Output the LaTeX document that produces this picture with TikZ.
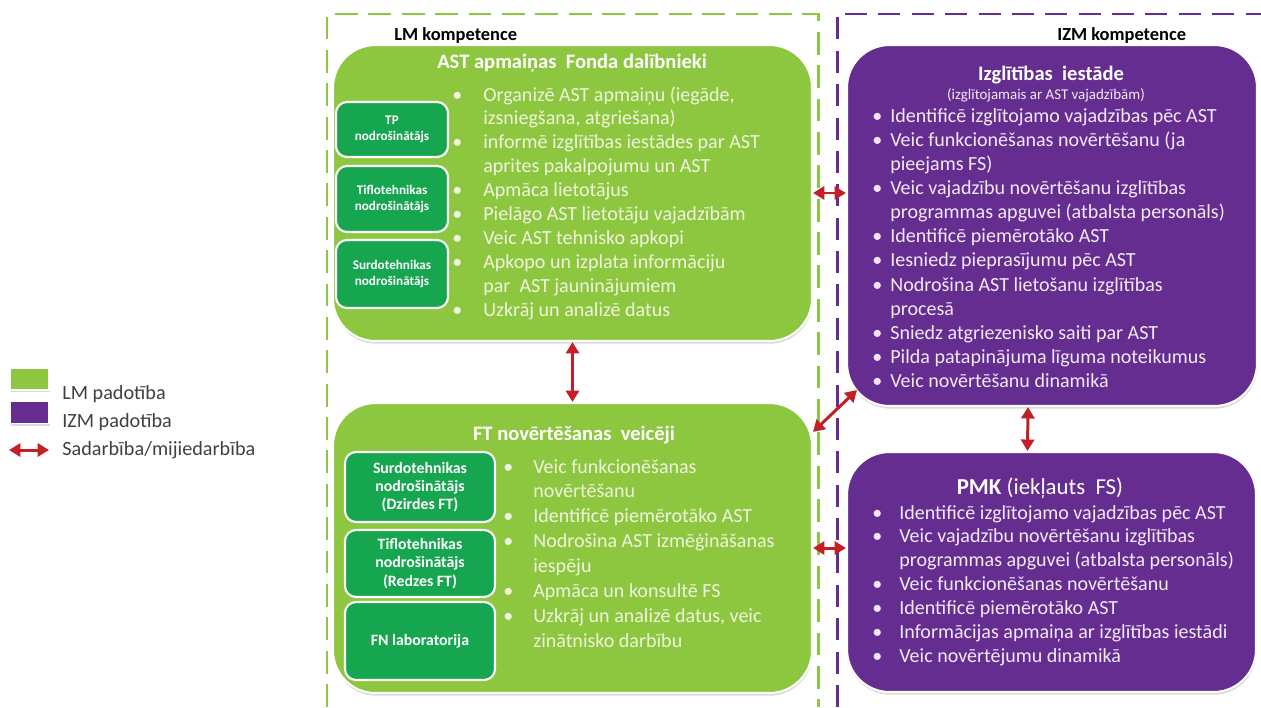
\documentclass[tikz,border=0pt]{standalone}
\usepackage{fontspec}
\setmainfont{Carlito}
\usetikzlibrary{shadows,arrows.meta}
\definecolor{lmgreen}{RGB}{141,198,63}
\definecolor{tpgreen}{RGB}{22,166,80}
\definecolor{izmpurple}{RGB}{102,45,145}
\definecolor{linkred}{RGB}{192,32,38}
\definecolor{gtext}{RGB}{240,244,222}
\definecolor{ptext}{RGB}{242,234,246}
\definecolor{lgtext}{RGB}{64,64,64}
\newcommand{\px}{0.02cm}
\tikzset{
  mainbox/.style={draw=white, line width=1.2pt, rounded corners=0.85cm, inner sep=0pt,
    drop shadow={shadow xshift=0.3pt, shadow yshift=-1.5pt, opacity=0.3}},
  lmbox/.style={mainbox, fill=lmgreen},
  izmbox/.style={mainbox, fill=izmpurple},
  subbox/.style={draw=white, line width=1.2pt, rounded corners=0.22cm, fill=tpgreen,
    text=white, align=center, inner sep=0pt},
  boxtitle/.style={text=white, font=\bfseries\fontsize{11.7}{14}\selectfont, anchor=base, inner sep=0pt},
  lmlist/.style={text=gtext, anchor=base west, inner sep=0pt},
  izmlist/.style={text=ptext, anchor=base west, inner sep=0pt},
  comp/.style={font=\bfseries\fontsize{10.5}{12}\selectfont, anchor=base west, inner sep=0pt},
  lmframe/.style={draw=lmgreen, line width=1.7pt, dash pattern=on 13pt off 6pt},
  izmframe/.style={draw=izmpurple, line width=1.7pt, dash pattern=on 12.5pt off 6.5pt},
  link/.style={draw=linkred, line width=1.7pt, {Triangle[length=6.5pt,width=7.5pt]}-{Triangle[length=6.5pt,width=7.5pt]}},
  lgbox/.style={draw=white, line width=0.8pt, minimum width=39*\px, minimum height=22*\px, inner sep=0pt,
    drop shadow={shadow xshift=0.3pt, shadow yshift=-1.2pt, opacity=0.3}},
  lgtext/.style={text=lgtext, font=\fontsize{11.5}{13}\selectfont, anchor=base west, inner sep=0pt}
}
\begin{document}
\begin{tikzpicture}[x=\px, y=-\px]
\useasboundingbox (0,0) rectangle (1261,707);

%%% kompetences
\draw[lmframe] (327,707) -- (327,14) -- (818,14) -- (818,707);
\draw[izmframe] (837,707) -- (837,14) -- (1261,14);
\node[comp] (lmcomp) at (394,40) {LM kompetence};
\node[comp] (izmcomp) at (1057,40) {IZM kompetence};

%%% LM padotiba
% AST apmainas fonds
\node[lmbox, minimum width=479*\px, minimum height=296*\px] (ast) at (572.5,193) {};
\node[boxtitle] (astT) at (572,68) {AST apmaiņas~ Fonda dalībnieki};
\node[subbox, font=\bfseries\fontsize{7.5}{9.2}\selectfont, minimum width=112*\px, minimum height=55*\px] (tp) at (392,129.5) {TP\\nodrošinātājs};
\node[subbox, font=\bfseries\fontsize{7.5}{9.2}\selectfont, minimum width=112*\px, minimum height=66*\px] (tiflo) at (392,199) {Tiflotehnikas\\nodrošinātājs};
\node[subbox, font=\bfseries\fontsize{7.5}{9.2}\selectfont, minimum width=112*\px, minimum height=68*\px] (surdo) at (392,274) {Surdotehnikas\\nodrošinātājs};
\node[lmlist, font=\fontsize{11.4}{13.6}\selectfont] (astL) at (452,101) {\begin{tabular}[t]{@{}p{0.62cm}@{}l@{}}
\textbullet & Organizē AST apmaiņu (iegāde,\\
 & izsniegšana, atgriešana)\\
\textbullet & informē izglītības iestādes par AST\\
 & aprites pakalpojumu un AST\\
\textbullet & Apmāca lietotājus\\
\textbullet & Pielāgo AST lietotāju vajadzībām\\
\textbullet & Veic AST tehnisko apkopi\\
\textbullet & Apkopo un izplata informāciju\\
 & par~ AST jauninājumiem\\
\textbullet & Uzkrāj un analizē datus
\end{tabular}};

% FT novertesana
\node[lmbox, minimum width=479*\px, minimum height=290*\px] (ft) at (572.5,548) {};
\node[boxtitle] (ftT) at (574,440) {FT novērtēšanas~ veicēji};
\node[subbox, font=\bfseries\fontsize{9}{10.4}\selectfont, minimum width=150*\px, minimum height=70*\px] (surdoft) at (420,487) {Surdotehnikas\\nodrošinātājs\\(Dzirdes FT)};
\node[subbox, font=\bfseries\fontsize{9}{10.4}\selectfont, minimum width=150*\px, minimum height=67*\px] (tifloft) at (420,563.5) {Tiflotehnikas\\nodrošinātājs\\(Redzes FT)};
\node[subbox, font=\bfseries\fontsize{9}{10.4}\selectfont, minimum width=150*\px, minimum height=78*\px] (fnlab) at (420,641) {FN laboratorija};
\node[lmlist, font=\fontsize{11.4}{14.2}\selectfont] (ftL) at (503,473) {\begin{tabular}[t]{@{}p{0.6cm}@{}l@{}}
\textbullet & Veic funkcionēšanas\\
 & novērtēšanu\\
\textbullet & Identificē piemērotāko AST\\
\textbullet & Nodrošina AST izmēģināšanas\\
 & iespēju\\
\textbullet & Apmāca un konsultē FS\\
\textbullet & Uzkrāj un analizē datus, veic\\
 & zinātnisko darbību
\end{tabular}};

%%% IZM padotiba
% izglitibas iestade
\node[izmbox, minimum width=410*\px, minimum height=361*\px] (iest) at (1052,225.5) {};
\node[boxtitle] (iestT) at (1051,80) {Izglītības~ iestāde};
\node[boxtitle, font=\fontsize{8.5}{10}\selectfont, text=ptext] (iestS) at (1046,99) {(izglītojamais ar AST vajadzībām)};
\node[izmlist, font=\fontsize{11.4}{13.75}\selectfont] (iestL) at (872,122) {\begin{tabular}[t]{@{}p{0.36cm}@{}l@{}}
\textbullet & Identificē izglītojamo vajadzības pēc AST\\
\textbullet & Veic funkcionēšanas novērtēšanu (ja\\
 & pieejams FS)\\
\textbullet & Veic vajadzību novērtēšanu izglītības\\
 & programmas apguvei (atbalsta personāls)\\
\textbullet & Identificē piemērotāko AST\\
\textbullet & Iesniedz pieprasījumu pēc AST\\
\textbullet & Nodrošina AST lietošanu izglītības\\
 & procesā\\
\textbullet & Sniedz atgriezenisko saiti par AST\\
\textbullet & Pilda patapinājuma līguma noteikumus\\
\textbullet & Veic novērtēšanu dinamikā
\end{tabular}};

% PMK
\node[izmbox, minimum width=409*\px, minimum height=240*\px] (pmk) at (1051.5,572) {};
\node[boxtitle, font=\fontsize{13}{15}\selectfont] (pmkT) at (1040,494) {\textbf{PMK} (iekļauts~ FS)};
\node[izmlist, font=\fontsize{11.4}{13.6}\selectfont] (pmkL) at (872,519) {\begin{tabular}[t]{@{}p{0.54cm}@{}l@{}}
\textbullet & Identificē izglītojamo vajadzības pēc AST\\
\textbullet & Veic vajadzību novērtēšanu izglītības\\
 & programmas apguvei (atbalsta personāls)\\
\textbullet & Veic funkcionēšanas novērtēšanu\\
\textbullet & Identificē piemērotāko AST\\
\textbullet & Informācijas apmaiņa ar izglītības iestādi\\
\textbullet & Veic novērtējumu dinamikā
\end{tabular}};

%%% sadarbiba
\draw[link] (ast.east) -- (ast.east -| iest.west);
\draw[link] (ast.south) -- (ft.north);
\draw[link] ([shift={(0,30)}]ft.north east) -- ([shift={(11,-17)}]iest.south west);
\draw[link] ([shift={(-24,0)}]iest.south) -- ([shift={(-24,0)}]pmk.north);
\draw[link] (ft.east) -- (ft.east -| pmk.west);

%%% legend
\node[lgbox, fill=lmgreen] (lglm) at (29.5,379) {};
\node[lgbox, fill=izmpurple] (lgizm) at (29.5,412.5) {};
\node[lgtext] (lglmT) at (62,399) {LM padotība};
\node[lgtext] (lgizmT) at (62,427) {IZM padotība};
\coordinate (lga) at (9,450);
\coordinate (lgb) at (49,450);
\draw[link] (lga) -- (lgb);
\node[lgtext] (lgsT) at (62,455) {Sadarbība/mijiedarbība};
\end{tikzpicture}
\end{document}
